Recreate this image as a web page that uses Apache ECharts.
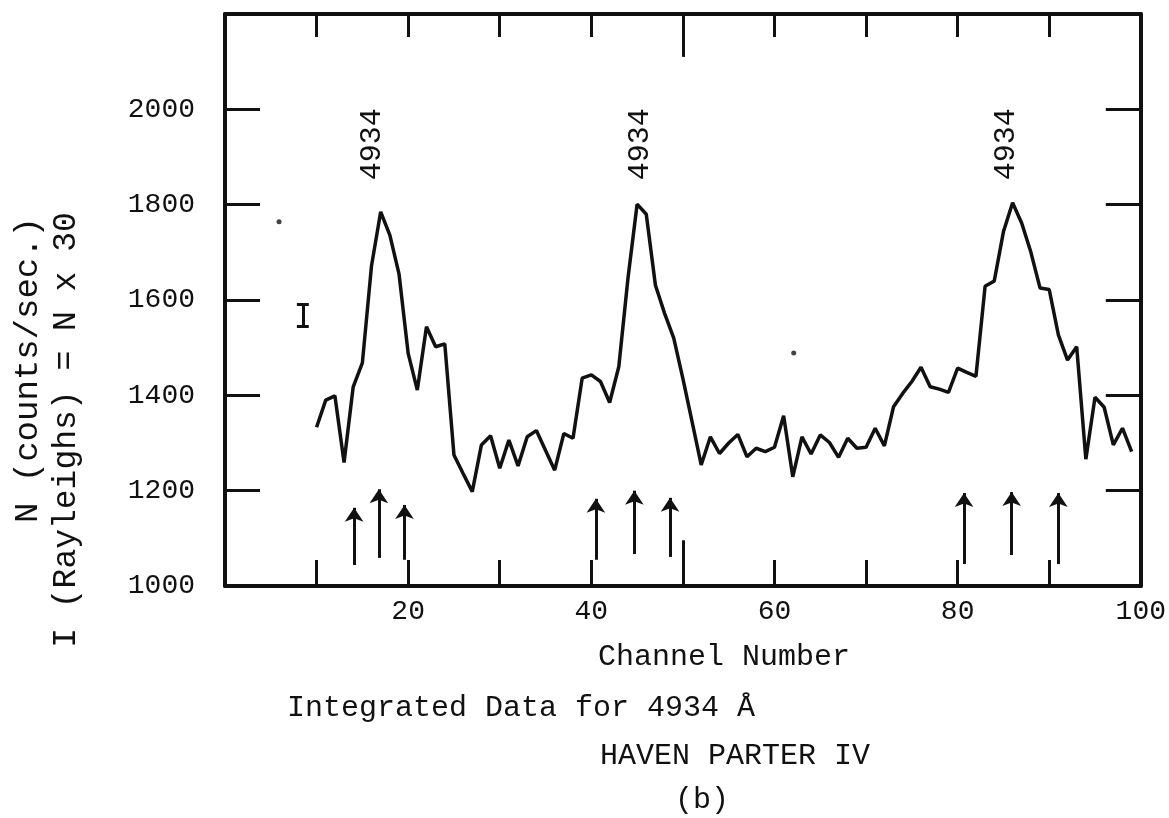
<!DOCTYPE html>
<html><head><meta charset="utf-8">
<script src="https://cdn.jsdelivr.net/npm/echarts@6/dist/echarts.min.js"></script>
<style>html,body{margin:0;padding:0;background:#fff}#c{width:1169px;height:818px}</style>
</head><body><div id="c"></div>
<script>
// ---- data ----
const channels = [10,11,12,13,14,15,16,17,18,19,20,21,22,23,24,25,26,27,28,29,30,31,32,33,34,36,37,38,39,40,41,42,43,44,45,46,47,48,49,50,51,52,53,54,55,56,57,58,59,60,61,62,63,64,65,66,67,68,69,70,71,72,73,74,75,76,77,78,79,80,81,82,83,84,85,86,87,88,89,90,91,92,93,94,95,96,97,98,99];
const counts = [1333,1390,1399,1259,1418,1468,1672,1785,1736,1655,1488,1411,1544,1502,1508,1275,1236,1198,1296,1315,1247,1306,1252,1313,1326,1243,1320,1310,1436,1443,1429,1385,1460,1645,1801,1780,1631,1572,1520,1435,1345,1254,1313,1278,1300,1318,1271,1289,1282,1291,1357,1229,1313,1277,1317,1301,1270,1310,1289,1291,1331,1294,1376,1404,1429,1459,1418,1413,1406,1457,1448,1440,1629,1640,1743,1804,1761,1700,1625,1622,1527,1474,1502,1266,1396,1375,1296,1331,1282];

const arrowChannels = [14.1,16.8,19.6,40.5,44.7,48.6,80.7,85.9,91.0];
const arrowBase     = [1044,1059,1055,1055,1067,1061,1046,1065,1046];
const arrowTip      = [1164,1203,1170,1183,1200,1185,1195,1197,1195];

const peakChannels = [16.1,45.3,85.3];
const peakLabelAt  = [1927,1927,1927];
const peakLabels   = ['4934','4934','4934'];

const errorBar = {channel: 8.5, low: 1545, high: 1592};
const specks = [[5.9,1764],[62.1,1489]];

const xTickLabels = [20,40,60,80,100];
const yTickLabels = [1000,1200,1400,1600,1800,2000];
const longTick = {channel: 50, bottomTo: 1096, topTo: 2110};

// ---- chart ----
const FONT = '"Liberation Mono","DejaVu Sans Mono",monospace';
const chart = echarts.init(document.getElementById('c'));
const lineData = channels.map((c,i)=>[c,counts[i]]);
const arrowLines = arrowChannels.map((c,i)=>[{coord:[c,arrowBase[i]]},{coord:[c,arrowTip[i]]}]);
const capHalf = 0.65;
const decoLines = [
  [{coord:[errorBar.channel,errorBar.low]},{coord:[errorBar.channel,errorBar.high]}],
  [{coord:[errorBar.channel-capHalf,errorBar.low]},{coord:[errorBar.channel+capHalf,errorBar.low]}],
  [{coord:[errorBar.channel-capHalf,errorBar.high]},{coord:[errorBar.channel+capHalf,errorBar.high]}],
  [{coord:[longTick.channel,1000]},{coord:[longTick.channel,longTick.bottomTo]}],
  [{coord:[longTick.channel,2200]},{coord:[longTick.channel,longTick.topTo]}]
];
const black = '#111';
const axisCommon = {
  type:'value', min:0, max:100, interval:10,
  axisLine:{show:true,onZero:false,lineStyle:{color:black,width:4}},
  splitLine:{show:false}
};
const yCommon = {
  type:'value', min:1000, max:2200, interval:200,
  axisLine:{show:true,onZero:false,lineStyle:{color:black,width:4}},
  axisTick:{show:true,inside:true,length:35,lineStyle:{color:black,width:3}},
  splitLine:{show:false}
};
chart.setOption({
  animation:false,
  backgroundColor:'#fff',
  grid:{left:225,right:24,top:14,bottom:232,containLabel:false},
  xAxis:[
    Object.assign({}, axisCommon, {position:'bottom',
      axisTick:{show:true,inside:true,length:26,lineStyle:{color:black,width:3}},
      axisLabel:{show:true,margin:12,color:black,fontFamily:FONT,fontSize:28,
        formatter:v=>xTickLabels.includes(v)?String(v):''}}),
    Object.assign({}, axisCommon, {position:'top',
      axisTick:{show:true,inside:true,length:23,lineStyle:{color:black,width:3}},
      axisLabel:{show:false}})
  ],
  yAxis:[
    Object.assign({}, yCommon, {position:'left',
      axisLabel:{show:true,margin:30,color:black,fontFamily:FONT,fontSize:28,
        formatter:v=>yTickLabels.includes(v)?String(v):''}}),
    Object.assign({}, yCommon, {position:'right',axisLabel:{show:false}})
  ],
  series:[
    {type:'line',data:lineData,symbol:'none',silent:true,
     lineStyle:{color:black,width:3.5},
     markLine:{silent:true,symbol:['none','arrow'],symbolSize:14,label:{show:false},
       lineStyle:{color:black,width:3,type:'solid'},emphasis:{disabled:true},data:arrowLines}},
    {type:'scatter',data:[],silent:true,
     markLine:{silent:true,symbol:['none','none'],label:{show:false},
       lineStyle:{color:black,width:3,type:'solid'},emphasis:{disabled:true},data:decoLines}},
    {type:'scatter',silent:true,symbolSize:0,itemStyle:{color:black,opacity:1},
     data:peakChannels.map((c,i)=>({value:[c,peakLabelAt[i]],label:{formatter:peakLabels[i]}})),
     label:{show:true,position:'inside',rotate:90,color:black,opacity:1,textBorderWidth:0,fontFamily:FONT,fontSize:30}},
    {type:'scatter',silent:true,symbolSize:5,itemStyle:{color:black},data:specks}
  ],
  graphic:[
    {type:'text',x:28,y:370,rotation:Math.PI/2,style:{text:'N (counts/sec.)',font:'34px '+FONT,fill:black,textAlign:'center',textVerticalAlign:'middle'}},
    {type:'text',x:66,y:430,rotation:Math.PI/2,style:{text:'I (Rayleighs) = N x 30',font:'33px '+FONT,fill:black,textAlign:'center',textVerticalAlign:'middle'}},
    {type:'text',x:598,y:657,style:{text:'Channel Number',font:'30px '+FONT,fill:black,textAlign:'left',textVerticalAlign:'middle'}},
    {type:'text',x:287,y:708,style:{text:'Integrated Data for 4934 Å',font:'30px '+FONT,fill:black,textAlign:'left',textVerticalAlign:'middle'}},
    {type:'text',x:600,y:756,style:{text:'HAVEN PARTER IV',font:'30px '+FONT,fill:black,textAlign:'left',textVerticalAlign:'middle'}},
    {type:'text',x:702,y:800,style:{text:'(b)',font:'30px '+FONT,fill:black,textAlign:'center',textVerticalAlign:'middle'}}
  ]
});
</script>
</body></html>
